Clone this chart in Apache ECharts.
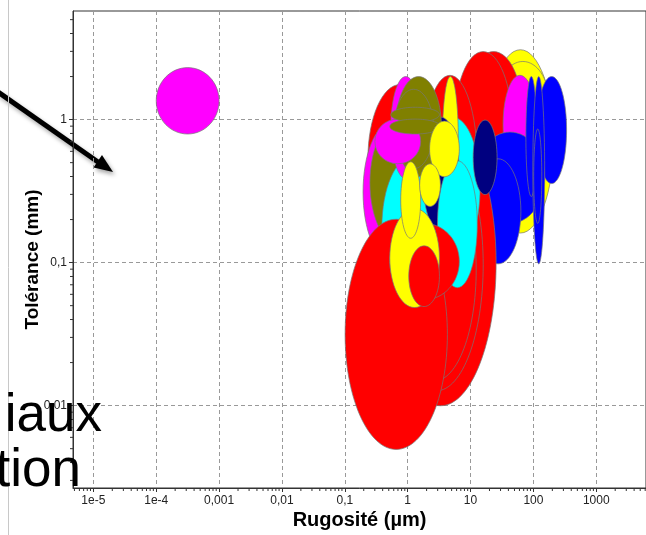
<!DOCTYPE html>
<html>
<head>
<meta charset="utf-8">
<title>Tolérance / Rugosité</title>
<script src="https://cdn.jsdelivr.net/npm/echarts@6/dist/echarts.min.js"></script>
<style>
html, body { margin: 0; padding: 0; background: #fff; }
#main { width: 646px; height: 535px; }
</style>
</head>
<body>
<div id="main"></div>
<script>
// plages rugosité (µm) / tolérance (mm) de chaque procédé, dans l'ordre de tracé
const roughMin = [18.4, 26.4, 8.25, 5.53, 32.9, 113, 11.9, 11.9, 75.9, 97.9, 101,
  0.233, 1.73, 0.433, 0.519, 0.579, 0.195, 0.251, 0.388, 1.92, 11.0, 3.57, 1.73, 2.98,
  0.539, 0.646, 0.601, 0.301, 0.539, 0.519, 2.23, 0.101, 0.519, 0.519, 1.04, 0.775, 1.55,
  0.0001];
const roughMax = [210, 175, 65.6, 45.6, 113, 337, 151, 63.2, 113, 151, 136,
  2.48, 12.8, 25.5, 15.9, 12.3, 1.44, 2.98, 3.70, 14.2, 26.4, 6.39, 6.63, 12.8,
  1.61, 3.44, 2.58, 1.61, 3.20, 3.32, 6.63, 4.28, 6.63, 3.20, 3.20, 1.61, 3.32,
  0.001];
const tolMin = [0.161, 0.733, 0.454, 0.281, 0.419, 0.357, 0.188, 0.098, 0.290, 0.098, 0.188,
  0.161, 0.126, 0.00998, 0.0127, 0.0149, 0.1045, 0.126, 0.0569, 0.108, 0.299, 0.259, 0.161, 0.0668,
  0.387, 0.399, 0.454, 0.491, 0.961, 0.793, 0.399, 0.00494, 0.0551, 0.0485, 0.0493, 0.148, 0.247,
  0.793];
const tolMax = [3.08, 2.55, 2.99, 2.99, 2.04, 2.00, 0.819, 0.532, 2.00, 2.00, 0.859,
  1.76, 2.04, 0.992, 0.733, 0.532, 0.931, 1.04, 0.550, 1.04, 0.992, 2.00, 1.04, 0.515,
  2.00, 2.00, 1.63, 1.008, 1.22, 1.008, 0.976, 0.201, 0.188, 0.239, 0.131, 0.507, 0.491,
  2.31];
// famille de procédé (index dans la palette)
const family = [1, 1, 0, 0, 2, 4, 4, 4, 4, 4, 4,
  0, 0, 0, 0, 0, 2, 6, 3, 3, 5, 1, 5, 3,
  2, 6, 6, 2, 6, 6, 1, 0, 0, 1, 0, 1, 1,
  2];

const xTickLabels = ['1e-5', '1e-4', '0,001', '0,01', '0,1', '1', '10', '100', '1000']; // 10^-5 .. 10^3
const yTickLabels = ['0,01', '0,1', '1']; // 10^-2 .. 10^0
const minorSteps = [2, 3, 4, 5, 6, 7, 8, 9];

const palette = ['#ff0000', '#ffff00', '#ff00ff', '#00ffff', '#0000ff', '#000080', '#808000'];
const FONT = 'Liberation Sans, Arial, sans-serif';

const X_MIN = Math.pow(10, -5.324), X_MAX = Math.pow(10, 3.791);
const Y_MIN = Math.pow(10, -2.576), Y_MAX = Math.pow(10, 0.7594);

const shapes = roughMin.map((v, i) => [v, roughMax[i], tolMin[i], tolMax[i], family[i]]);

const xMinor = [], yMinor = [];
for (let e = -6; e <= 4; e++) {
  minorSteps.forEach(s => {
    const v = s * Math.pow(10, e);
    if (v > X_MIN && v < X_MAX) xMinor.push([v, Y_MIN]);
    if (v > Y_MIN && v < Y_MAX) yMinor.push([X_MIN, v]);
  });
}

function decadeLabel(list, offset) {
  return function (v) {
    const l = Math.log10(v), e = Math.round(l);
    if (Math.abs(l - e) > 0.01) return '';
    return list[e + offset] || '';
  };
}

const myChart = echarts.init(document.getElementById('main'));

const option = {
  animation: false,
  grid: { left: 73, right: -4, top: 11, bottom: 43, show: true, borderColor: '#333', borderWidth: 1, backgroundColor: 'transparent' },
  xAxis: {
    type: 'log', logBase: 10, min: X_MIN, max: X_MAX, splitNumber: 10,
    name: 'Rugosité (µm)', nameLocation: 'middle', nameGap: 22, nameMoveOverlap: false,
    nameTextStyle: { fontFamily: FONT, fontSize: 20, fontWeight: 'bold', color: '#000' },
    axisLine: { onZero: false, lineStyle: { color: '#333', width: 1 } },
    axisTick: { length: 4, lineStyle: { color: '#333' } },
    axisLabel: { showMinLabel: false, showMaxLabel: false, margin: 7, fontFamily: FONT, fontSize: 12, color: '#222', formatter: decadeLabel(xTickLabels, 5) },
    splitLine: { show: true, lineStyle: { color: '#999', type: [4, 3], width: 1 } }
  },
  yAxis: {
    type: 'log', logBase: 10, min: Y_MIN, max: Y_MAX, splitNumber: 5,
    name: 'Tolérance (mm)', nameLocation: 'middle', nameGap: 31, nameMoveOverlap: false,
    nameTextStyle: { fontFamily: FONT, fontSize: 19, fontWeight: 'bold', color: '#000', padding: [0, 20, 0, 0] },
    axisLine: { onZero: false, lineStyle: { color: '#333', width: 1 } },
    axisTick: { length: 4, lineStyle: { color: '#333' } },
    axisLabel: { showMinLabel: false, showMaxLabel: false, margin: 6, fontFamily: FONT, fontSize: 12, color: '#222', formatter: decadeLabel(yTickLabels, 2) },
    splitLine: { show: true, lineStyle: { color: '#999', type: [4, 3], width: 1 } }
  },
  series: [
    {
      type: 'custom', name: 'procedes', z: 2,
      encode: { x: [0, 1], y: [2, 3] },
      data: shapes,
      renderItem: function (params, api) {
        const a = api.coord([api.value(0), api.value(3)]);
        const b = api.coord([api.value(1), api.value(2)]);
        return {
          type: 'ellipse',
          shape: { cx: (a[0] + b[0]) / 2, cy: (a[1] + b[1]) / 2, rx: Math.abs(b[0] - a[0]) / 2, ry: Math.abs(b[1] - a[1]) / 2 },
          style: { fill: palette[api.value(4)], stroke: '#777', lineWidth: 0.7 }
        };
      }
    },
    {
      type: 'custom', name: 'xminor', z: 3, silent: true,
      data: xMinor,
      renderItem: function (params, api) {
        const p = api.coord([api.value(0), api.value(1)]);
        return { type: 'line', shape: { x1: p[0], y1: p[1], x2: p[0], y2: p[1] + 3 }, style: { stroke: '#333', lineWidth: 1 } };
      }
    },
    {
      type: 'custom', name: 'yminor', z: 3, silent: true,
      data: yMinor,
      renderItem: function (params, api) {
        const p = api.coord([api.value(0), api.value(1)]);
        return { type: 'line', shape: { x1: p[0] - 3, y1: p[1], x2: p[0], y2: p[1] }, style: { stroke: '#333', lineWidth: 1 } };
      }
    }
  ],
  graphic: [
    { type: 'line', z: 50, shape: { x1: 8.5, y1: 0, x2: 8.5, y2: 535 }, style: { stroke: '#c8c8c8', lineWidth: 1 } },
    {
      type: 'group', z: 60,
      children: [
        { type: 'line', shape: { x1: -2, y1: 92, x2: 98, y2: 162 }, style: { stroke: '#000', lineWidth: 5, shadowBlur: 4, shadowOffsetX: 2, shadowOffsetY: 3, shadowColor: 'rgba(0,0,0,0.35)' } },
        { type: 'polygon', shape: { points: [[113, 172], [93.5, 167.5], [102, 155]] }, style: { fill: '#000', shadowBlur: 4, shadowOffsetX: 2, shadowOffsetY: 3, shadowColor: 'rgba(0,0,0,0.35)' } }
      ]
    },
    { type: 'text', z: 70, style: { text: 'iaux', x: 102, y: 443, textAlign: 'right', textVerticalAlign: 'bottom', font: '53px "Liberation Sans", Arial, sans-serif', fill: '#000' } },
    { type: 'text', z: 70, style: { text: 'tion', x: 81, y: 498, textAlign: 'right', textVerticalAlign: 'bottom', font: '53px "Liberation Sans", Arial, sans-serif', fill: '#000' } }
  ]
};

myChart.setOption(option);
</script>
</body>
</html>
